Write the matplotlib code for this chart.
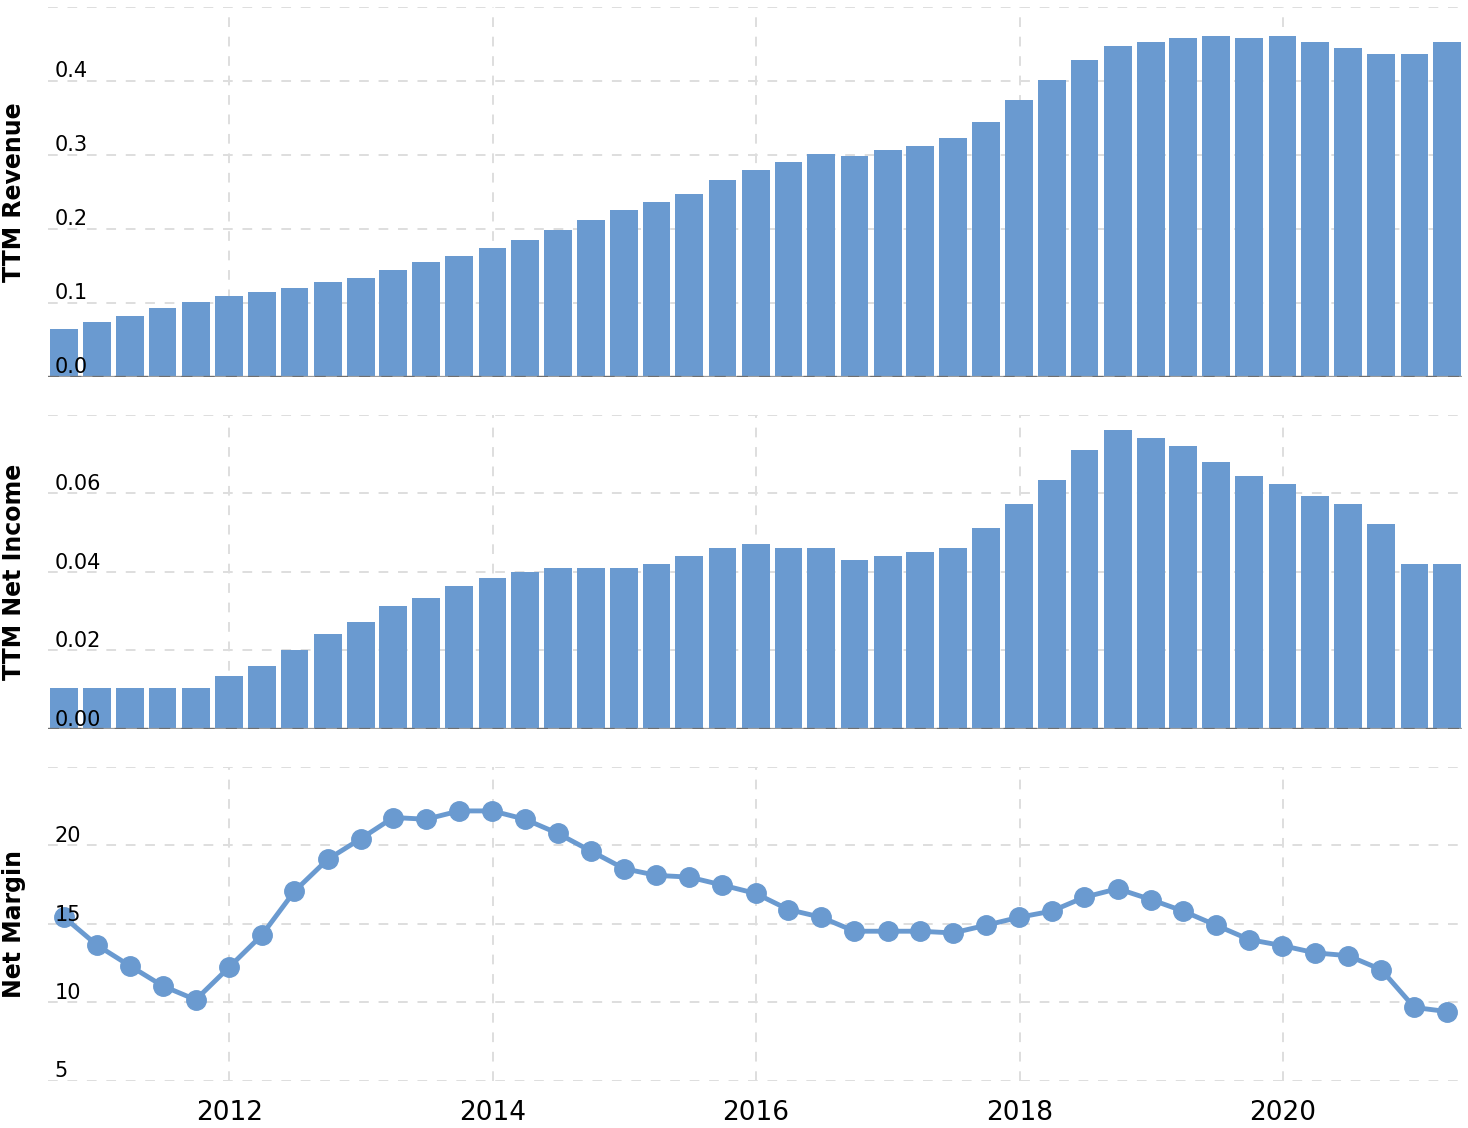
import matplotlib
matplotlib.use("Agg")
import matplotlib.pyplot as plt
import pandas as pd

# ---- DATA ----------------------------------------------------------------
quarters = pd.date_range("2010-09-30", periods=43, freq=pd.offsets.QuarterEnd())

revenue = [0.065, 0.074, 0.082, 0.093, 0.101, 0.109, 0.115, 0.120, 0.128, 0.133,
           0.144, 0.155, 0.163, 0.174, 0.185, 0.198, 0.212, 0.225, 0.236, 0.247,
           0.266, 0.279, 0.290, 0.301, 0.298, 0.306, 0.312, 0.322, 0.344, 0.374,
           0.401, 0.428, 0.447, 0.452, 0.458, 0.460, 0.458, 0.460, 0.452, 0.444,
           0.436, 0.436, 0.452]

net_income = [0.0104, 0.0104, 0.0104, 0.0104, 0.0104, 0.0135, 0.0160, 0.0200,
              0.0242, 0.0272, 0.0313, 0.0333, 0.0364, 0.0384, 0.0399, 0.0410,
              0.0410, 0.0410, 0.0420, 0.0440, 0.0460, 0.0471, 0.0460, 0.0460,
              0.0430, 0.0440, 0.0450, 0.0460, 0.0511, 0.0573, 0.0634, 0.0710,
              0.0761, 0.0740, 0.0720, 0.0679, 0.0644, 0.0623, 0.0593, 0.0573,
              0.0522, 0.0420, 0.0420]

net_margin = [15.42, 13.63, 12.33, 11.05, 10.16, 12.22, 14.27, 17.08, 19.11, 20.43,
              21.78, 21.67, 22.20, 22.20, 21.67, 20.77, 19.64, 18.52, 18.09, 17.98,
              17.47, 16.94, 15.91, 15.42, 14.53, 14.53, 14.53, 14.42, 14.91, 15.42,
              15.81, 16.70, 17.24, 16.55, 15.81, 14.91, 14.00, 13.61, 13.15, 12.97,
              12.08, 9.67, 9.41]

year_ticks = pd.to_datetime(["2012-01-01", "2014-01-01", "2016-01-01",
                             "2018-01-01", "2020-01-01"])
year_labels = ["2012", "2014", "2016", "2018", "2020"]

rev_ticks = [0.0, 0.1, 0.2, 0.3, 0.4, 0.5]
rev_labels = ["0.0", "0.1", "0.2", "0.3", "0.4", ""]
ni_ticks = [0.0, 0.02, 0.04, 0.06, 0.08]
ni_labels = ["0.00", "0.02", "0.04", "0.06", ""]
nm_ticks = [5, 10, 15, 20, 25]
nm_labels = ["5", "10", "15", "20", ""]

# ---- STYLE ---------------------------------------------------------------
BLUE = "#6a9ad0"
GRID = "#dedede"
DASH = (0, (5, 5))
X_LIM = (pd.Timestamp("2010-08-15"), pd.Timestamp("2021-05-12"))
BAR_W = pd.Timedelta(days=77)

fig = plt.figure(figsize=(14.68, 11.28), dpi=100)
L, W = 47.5 / 1468, 1414.5 / 1468


def make_ax(top_px, bottom_px):
    b = 1 - bottom_px / 1128
    h = (bottom_px - top_px) / 1128
    return fig.add_axes([L, b, W, h])


ax1 = make_ax(6.7, 376.7)
ax2 = make_ax(414.7, 729.0)
ax3 = make_ax(767.0, 1080.7)


def style(ax, ticks, labels, ylim, ylabel):
    ax.set_xlim(*X_LIM)
    ax.set_ylim(*ylim)
    for s in ax.spines.values():
        s.set_visible(False)
    ax.set_xticks(year_ticks)
    ax.set_yticks(ticks)
    ax.set_yticklabels([])
    ax.tick_params(length=0)
    ax.grid(True, color=GRID, linestyle=DASH, linewidth=1.4, zorder=0)
    ax.set_axisbelow(True)
    for t, lab in zip(ticks, labels):
        if lab:
            ax.annotate(lab, xy=(0, t), xycoords=("axes fraction", "data"),
                        xytext=(5, 2.4), textcoords="offset points",
                        fontsize=15, va="baseline", ha="left", zorder=5,
                        annotation_clip=False)
    ax.text(-0.0237, 0.5, ylabel, transform=ax.transAxes, rotation=90,
            ha="center", va="center", fontsize=17, fontweight="bold")


style(ax1, rev_ticks, rev_labels, (0, 0.5), "TTM Revenue")
style(ax2, ni_ticks, ni_labels, (0, 0.08), "TTM Net Income")
style(ax3, nm_ticks, nm_labels, (5, 25), "Net Margin")

ax1.bar(quarters, revenue, width=BAR_W, color=BLUE, zorder=2)
ax2.bar(quarters, net_income, width=BAR_W, color=BLUE, zorder=2)
for ax in (ax1, ax2):
    ax.axhline(0, color="#9a9a9a", linewidth=1.6, zorder=3)
    ax.axhline(0, color="#6f6f6f", linewidth=1.6, linestyle=DASH, zorder=3)

ax3.plot(quarters, net_margin, "-o", color=BLUE, linewidth=3.5,
         markersize=14, zorder=3)

ax1.set_xticklabels([])
ax2.set_xticklabels([])
ax3.set_xticklabels(year_labels, fontsize=19)
ax3.tick_params(axis="x", pad=14)

fig.savefig("out.png", dpi=100)
